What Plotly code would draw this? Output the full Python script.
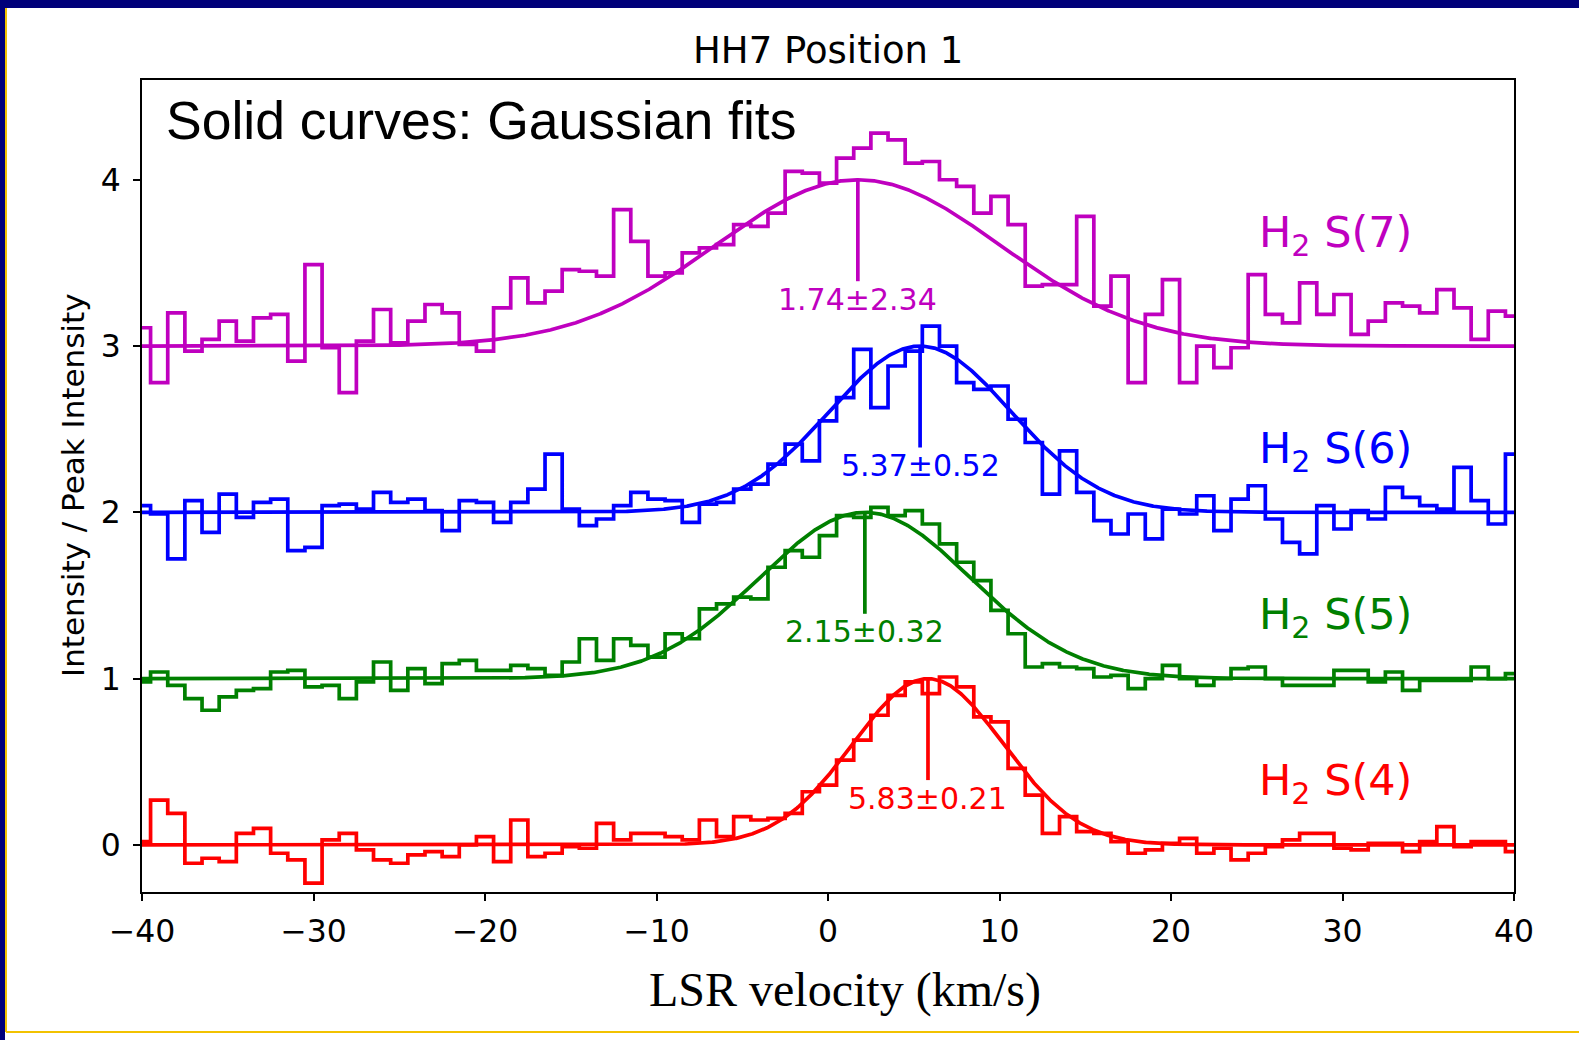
import numpy as np
import plotly.graph_objects as go

# ---------------- data ----------------
velocity = list(range(-40, 41))  # LSR velocity channel centres (km/s)

# plotted (offset) normalised intensities
h2_s4 = [0.02, 0.27, 0.19, -0.11, -0.08, -0.10, 0.07, 0.10, -0.05, -0.09,
         -0.23, 0.03, 0.07, -0.03, -0.09, -0.11, -0.06, -0.04, -0.07, 0.00,
         0.05, -0.10, 0.15, -0.07, -0.05, -0.01, -0.02, 0.13, 0.03, 0.07,
         0.07, 0.05, 0.03, 0.15, 0.05, 0.17, 0.15, 0.16, 0.19, 0.32,
         0.36, 0.51, 0.63, 0.78, 0.90, 0.98, 0.91, 1.01, 0.95, 0.77,
         0.74, 0.46, 0.30, 0.07, 0.17, 0.08, 0.07, 0.02, -0.05, -0.03,
         0.01, 0.04, -0.05, -0.02, -0.09, -0.05, -0.01, 0.03, 0.07, 0.07,
         -0.02, -0.03, 0.01, 0.01, -0.04, 0.02, 0.11, -0.01, 0.02, 0.02,
         -0.04]
h2_s5 = [0.98, 1.04, 0.96, 0.88, 0.81, 0.89, 0.93, 0.94, 1.04, 1.05,
         0.95, 0.96, 0.88, 0.98, 1.10, 0.93, 1.06, 0.97, 1.09, 1.11,
         1.05, 1.05, 1.08, 1.06, 1.02, 1.10, 1.24, 1.11, 1.24, 1.20,
         1.13, 1.27, 1.24, 1.42, 1.45, 1.49, 1.48, 1.67, 1.77, 1.73,
         1.86, 1.98, 1.97, 2.03, 1.98, 2.01, 1.93, 1.81, 1.70, 1.59,
         1.41, 1.27, 1.07, 1.09, 1.07, 1.06, 1.01, 1.02, 0.94, 1.00,
         1.08, 1.00, 0.96, 1.00, 1.06, 1.07, 1.00, 0.96, 0.96, 0.96,
         1.05, 1.05, 0.98, 1.04, 0.93, 0.99, 0.99, 0.99, 1.07, 1.00,
         1.03]
h2_s6 = [2.04, 1.99, 1.72, 2.07, 1.88, 2.11, 1.97, 2.06, 2.08, 1.77,
         1.79, 2.04, 2.05, 2.02, 2.12, 2.06, 2.08, 2.01, 1.89, 2.07,
         2.06, 1.94, 2.06, 2.14, 2.35, 2.02, 1.92, 1.96, 2.04, 2.12,
         2.08, 2.07, 1.94, 2.05, 2.06, 2.14, 2.17, 2.29, 2.41, 2.31,
         2.55, 2.69, 2.98, 2.63, 2.88, 2.97, 3.12, 3.00, 2.78, 2.74,
         2.76, 2.56, 2.42, 2.11, 2.37, 2.12, 1.95, 1.87, 1.99, 1.84,
         2.02, 1.99, 2.10, 1.89, 2.08, 2.16, 1.96, 1.82, 1.75, 2.04,
         1.90, 2.01, 1.96, 2.15, 2.09, 2.04, 2.02, 2.27, 2.07, 1.93,
         2.35]
h2_s7 = [3.11, 2.78, 3.20, 2.97, 3.04, 3.15, 3.03, 3.17, 3.19, 2.91,
         3.49, 2.99, 2.72, 3.03, 3.22, 3.02, 3.15, 3.25, 3.20, 3.01,
         2.97, 3.23, 3.41, 3.26, 3.33, 3.46, 3.45, 3.42, 3.82, 3.63,
         3.42, 3.44, 3.56, 3.59, 3.61, 3.73, 3.72, 3.80, 4.05, 4.04,
         3.98, 4.13, 4.19, 4.28, 4.24, 4.10, 4.11, 4.00, 3.96, 3.80,
         3.90, 3.73, 3.36, 3.37, 3.37, 3.78, 3.24, 3.42, 2.78, 3.19,
         3.40, 2.78, 3.00, 2.87, 2.99, 3.43, 3.19, 3.14, 3.38, 3.19,
         3.31, 3.07, 3.15, 3.26, 3.24, 3.20, 3.34, 3.23, 3.04, 3.21,
         3.18]

line_names = ["H<sub>2</sub> S(4)", "H<sub>2</sub> S(5)", "H<sub>2</sub> S(6)", "H<sub>2</sub> S(7)"]
offsets = [0, 1, 2, 3]
fit_centers = [5.83, 2.15, 5.37, 1.74]
fit_errors = [0.21, 0.32, 0.52, 2.34]
fit_sigmas = [4.4, 6.15, 5.3, 8.3]
name_label_y = [0.37, 1.37, 2.37, 3.67]

colors = ["#FF0000", "#008000", "#0000FF", "#BF00BF"]
spectra = [h2_s4, h2_s5, h2_s6, h2_s7]

# ---------------- figure ----------------
W, H = 1579, 1040
L, R, T, B = 142, 65, 80, 148
pw, ph = W - L - R, H - T - B


def px_x(p):
    return (p - L) / pw


def px_y(p):
    return (H - B - p) / ph


fig = go.Figure()
vfine = np.linspace(-40, 40, 1601)
LW = 3.7

for spec, off, c, s, col in zip(spectra, offsets, fit_centers, fit_sigmas, colors):
    fig.add_trace(go.Scatter(x=velocity, y=spec, mode="lines",
                             line=dict(color=col, width=LW, shape="hvh"),
                             hoverinfo="skip"))
    gfit = off + np.exp(-0.5 * ((vfine - c) / s) ** 2)
    fig.add_trace(go.Scatter(x=vfine, y=gfit, mode="lines",
                             line=dict(color=col, width=LW), hoverinfo="skip"))
    fig.add_trace(go.Scatter(x=[c, c], y=[off + 1, off + 1 - 0.61], mode="lines",
                             line=dict(color=col, width=LW), hoverinfo="skip"))

annotations = []
for name, off, c, e, ly, col in zip(line_names, offsets, fit_centers, fit_errors,
                                     name_label_y, colors):
    annotations.append(dict(x=c, y=off + 1 - 0.718, xref="x", yref="y",
                            text=f"{c:.2f}±{e:.2f}", showarrow=False,
                            xanchor="center", yanchor="middle",
                            font=dict(family="DejaVu Sans", size=30, color=col)))
    annotations.append(dict(x=34.15, y=ly, xref="x", yref="y", text=name,
                            showarrow=False, xanchor="right", yanchor="middle",
                            font=dict(family="DejaVu Sans", size=43, color=col)))

annotations += [
    dict(x=0.5, y=px_y(50), xref="paper", yref="paper", text="HH7 Position 1",
         showarrow=False, xanchor="center", yanchor="middle",
         font=dict(family="DejaVu Sans", size=37, color="black")),
    dict(x=px_x(164), y=px_y(121), xref="paper", yref="paper",
         text="Solid curves: Gaussian fits", showarrow=False,
         xanchor="left", yanchor="middle",
         font=dict(family="Liberation Sans", size=53.5, color="black")),
    dict(x=px_x(845), y=px_y(990), xref="paper", yref="paper",
         text="LSR velocity (km/s)", showarrow=False,
         xanchor="center", yanchor="middle",
         font=dict(family="Liberation Serif", size=48, color="black")),
    dict(x=px_x(73), y=0.5, xref="paper", yref="paper",
         text="Intensity / Peak Intensity", showarrow=False, textangle=-90,
         xanchor="center", yanchor="middle",
         font=dict(family="DejaVu Sans", size=31, color="black")),
]

xt = [-40, -30, -20, -10, 0, 10, 20, 30, 40]
fig.update_layout(
    width=W, height=H, margin=dict(l=L, r=R, t=T, b=B),
    paper_bgcolor="white", plot_bgcolor="white", showlegend=False,
    annotations=annotations,
    xaxis=dict(range=[-40, 40], tickvals=xt,
               ticktext=[str(v).replace("-", "−") for v in xt],
               ticks="outside", ticklen=7, tickwidth=1.6, tickcolor="black",
               showline=True, linecolor="black", linewidth=1.8, mirror=True,
               showgrid=False, zeroline=False, ticklabelstandoff=3,
               tickfont=dict(family="DejaVu Sans", size=31.5, color="black")),
    yaxis=dict(range=[-0.283, 4.6], tickvals=[0, 1, 2, 3, 4],
               ticks="outside", ticklen=7, tickwidth=1.6, tickcolor="black",
               showline=True, linecolor="black", linewidth=1.8, mirror=True,
               showgrid=False, zeroline=False, ticklabelstandoff=6,
               tickfont=dict(family="DejaVu Sans", size=31.5, color="black")),
    shapes=[
        dict(type="rect", xref="paper", yref="paper", x0=px_x(0), x1=px_x(W),
             y0=px_y(8), y1=px_y(0), fillcolor="#00007A", line=dict(width=0), layer="above"),
        dict(type="rect", xref="paper", yref="paper", x0=px_x(0), x1=px_x(5),
             y0=px_y(H), y1=px_y(0), fillcolor="#00007A", line=dict(width=0), layer="above"),
        dict(type="line", xref="paper", yref="paper", x0=px_x(6), x1=px_x(6),
             y0=px_y(1032), y1=px_y(8), line=dict(color="#F2C200", width=2), layer="above"),
        dict(type="line", xref="paper", yref="paper", x0=px_x(6), x1=px_x(W),
             y0=px_y(1032), y1=px_y(1032), line=dict(color="#F2C200", width=2), layer="above"),
    ],
)

fig.write_html("out.html")
